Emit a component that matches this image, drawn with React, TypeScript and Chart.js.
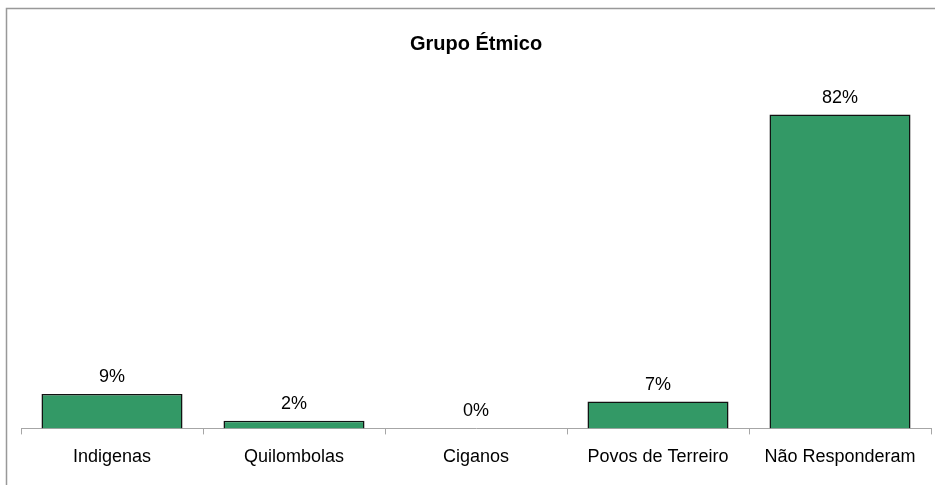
import React, { useEffect, useRef } from "react";
import { Chart, registerables } from "chart.js";

Chart.register(...registerables);

const categories = ["Indigenas", "Quilombolas", "Ciganos", "Povos de Terreiro", "Não Responderam"];
const values = [9, 2, 0, 7, 82];
const valueLabels = ["9%", "2%", "0%", "7%", "82%"];
const chartTitle = "Grupo Étmico";

const framePlugin = {
  id: "frame",
  beforeDraw(chart: any) {
    const ctx = chart.ctx;
    ctx.save();
    ctx.fillStyle = "#ffffff";
    ctx.fillRect(0, 0, chart.width, chart.height);
    ctx.strokeStyle = "#999999";
    ctx.lineWidth = 1.5;
    ctx.strokeRect(6.5, 8.5, chart.width + 20, chart.height + 20);
    ctx.restore();
  },
};

const labelPlugin = {
  id: "valueLabels",
  afterDatasetsDraw(chart: any) {
    const ctx = chart.ctx;
    const meta = chart.getDatasetMeta(0);
    ctx.save();
    ctx.font = '18px "Liberation Sans", Arial, sans-serif';
    ctx.fillStyle = "#000000";
    ctx.textAlign = "center";
    ctx.textBaseline = "alphabetic";
    meta.data.forEach((bar: any, i: number) => {
      ctx.fillText(valueLabels[i], bar.x, bar.y - 12);
    });
    ctx.restore();
  },
};

export default function App() {
  const ref = useRef<HTMLCanvasElement | null>(null);
  useEffect(() => {
    if (!ref.current) return;
    const chart = new Chart(ref.current, {
      type: "bar",
      data: {
        labels: categories,
        datasets: [
          {
            data: values,
            backgroundColor: "#339966",
            borderColor: "#111111",
            borderWidth: 1.5,
            categoryPercentage: 1,
            barPercentage: 0.775,
          },
        ],
      },
      options: {
        animation: false,
        responsive: false,
        maintainAspectRatio: false,
        layout: { padding: { left: 21, right: 4, top: 0, bottom: 5 } },
        plugins: {
          legend: { display: false },
          tooltip: { enabled: false },
          title: {
            display: true,
            text: chartTitle,
            color: "#000000",
            font: { family: '"Liberation Sans", Arial, sans-serif', size: 20, weight: "bold" },
            padding: { top: 32, bottom: 28 },
          },
        },
        scales: {
          x: {
            grid: {
              offset: true,
              drawOnChartArea: false,
              drawTicks: true,
              tickLength: 6,
              color: "#a6a6a6",
            },
            border: { color: "#a6a6a6", width: 1 },
            ticks: {
              color: "#000000",
              padding: 12,
              maxRotation: 0,
              autoSkip: false,
              font: { family: '"Liberation Sans", Arial, sans-serif', size: 18 },
            },
          },
          y: {
            display: false,
            min: 0,
            max: 90,
          },
        },
      },
      plugins: [framePlugin, labelPlugin],
    });
    return () => chart.destroy();
  }, []);
  return (
    <div style={{ position: "fixed", left: 0, top: 0, width: 935, height: 485 }}>
      <canvas ref={ref} width={935} height={485} style={{ display: "block" }} />
    </div>
  );
}
